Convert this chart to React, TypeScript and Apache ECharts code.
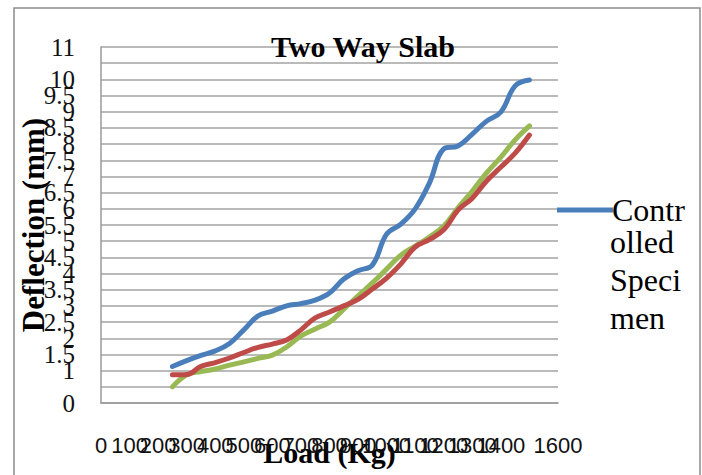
import React, { useEffect, useRef } from "react";
import * as echarts from "echarts";

const loads = [250, 300, 350, 400, 450, 500, 550, 600, 650, 700, 750, 800, 850, 900, 950, 1000, 1050, 1100, 1150, 1200, 1250, 1300, 1350, 1400, 1450, 1500];
const controlled = [1.13, 1.31, 1.47, 1.61, 1.84, 2.26, 2.69, 2.84, 3.0, 3.07, 3.18, 3.4, 3.83, 4.09, 4.26, 5.22, 5.53, 6.0, 6.8, 7.85, 7.94, 8.31, 8.71, 8.99, 9.8, 9.98];
const specimenB = [0.87, 0.88, 1.13, 1.25, 1.39, 1.56, 1.72, 1.82, 1.95, 2.26, 2.63, 2.81, 3.0, 3.2, 3.52, 3.86, 4.3, 4.82, 5.05, 5.35, 5.96, 6.33, 6.86, 7.29, 7.72, 8.28];
const specimenC = [0.5, 0.87, 0.97, 1.05, 1.17, 1.27, 1.38, 1.48, 1.73, 2.07, 2.29, 2.5, 2.9, 3.31, 3.71, 4.14, 4.57, 4.85, 5.13, 5.47, 6.03, 6.55, 7.11, 7.6, 8.13, 8.56];

const seriesNames = ["Controlled Specimen", "Specimen B", "Specimen C"];
const seriesColors = ["#4A7EBB", "#BE4B48", "#98B954"];
const seriesValues = [controlled, specimenB, specimenC];

const titleText = "Two Way Slab";
const xName = "Load (Kg)";
const yName = "Deflection (mm)";

export default function App() {
  const ref = useRef<HTMLDivElement>(null);
  useEffect(() => {
    if (!ref.current) return;
    const chart = echarts.init(ref.current, undefined, { renderer: "svg" });
    const serif = "Liberation Serif";
    chart.setOption({
      animation: false,
      backgroundColor: "#ffffff",
      title: {
        text: titleText,
        left: 358,
        top: 26,
        textAlign: "center",
        textStyle: { fontFamily: serif, fontWeight: "bold", fontSize: 30, color: "#000" },
      },
      grid: { left: 101, right: 144, top: 47, bottom: 72, containLabel: false, outerBoundsMode: "none" },
      xAxis: {
        type: "value",
        min: 0,
        max: 1600,
        interval: 100,
        name: xName,
        nameLocation: "middle",
        nameGap: 34,
        nameMoveOverlap: false,
        nameTextStyle: { fontFamily: serif, fontWeight: "bold", fontSize: 30, color: "#000" },
        axisLine: { show: true, lineStyle: { color: "#9a9a9a", width: 1.5 } },
        axisTick: { show: false },
        splitLine: { show: false },
        axisLabel: {
          fontFamily: "Liberation Sans",
          fontSize: 22,
          color: "#111",
          margin: 31,
          hideOverlap: false,
          showMinLabel: true,
          showMaxLabel: true,
          formatter: (v: number) => String(v),
        },
      },
      yAxis: {
        type: "value",
        min: 0,
        max: 11,
        interval: 0.5,
        name: yName,
        nameLocation: "middle",
        nameGap: 52,
        nameMoveOverlap: false,
        nameTextStyle: { fontFamily: serif, fontWeight: "bold", fontSize: 31, color: "#000" },
        axisLine: { show: true, lineStyle: { color: "#9a9a9a", width: 1.5 } },
        axisTick: { show: false },
        splitLine: { show: true, lineStyle: { color: "#a3a3a3", width: 1.5 } },
        axisLabel: {
          fontFamily: serif,
          fontSize: 25,
          color: "#111",
          margin: 26,
          hideOverlap: false,
          showMinLabel: true,
          showMaxLabel: true,
          formatter: (v: number) => String(v),
        },
      },
      legend: {
        show: true,
        data: [seriesNames[0]],
        left: 552,
        top: 189,
        orient: "vertical",
        itemWidth: 56,
        itemHeight: 5,
        itemGap: 0,
        icon: "rect",
        formatter: () => "Contr",
        textStyle: { fontFamily: serif, fontSize: 32, color: "#000", padding: [0, 0, 0, -6] },
      },
      graphic: [
        {
          type: "rect",
          shape: { x: 14, y: 8, width: 686, height: 480 },
          style: { fill: "none", stroke: "#8c8c8c", lineWidth: 1.5 },
          silent: true,
          z: -1,
        },
        {
          type: "text",
          left: 610,
          top: 223,
          style: {
            text: "olled\nSpeci\nmen",
            fontFamily: serif,
            fontSize: 32,
            lineHeight: 38,
            fill: "#000",
          },
        },
      ],
      series: seriesValues.map((vals, si) => ({
        name: seriesNames[si],
        type: "line",
        smooth: 0.4,
        showSymbol: false,
        symbol: "none",
        lineStyle: { color: seriesColors[si], width: 5, cap: "round", join: "round" },
        itemStyle: { color: seriesColors[si] },
        data: loads.map((x, i) => [x, vals[i]]),
        z: 3 - si,
      })),
    });
    return () => chart.dispose();
  }, []);
  return (
    <div
      ref={ref}
      style={{ position: "absolute", left: 0, top: 0, width: 702, height: 475 }}
    />
  );
}
